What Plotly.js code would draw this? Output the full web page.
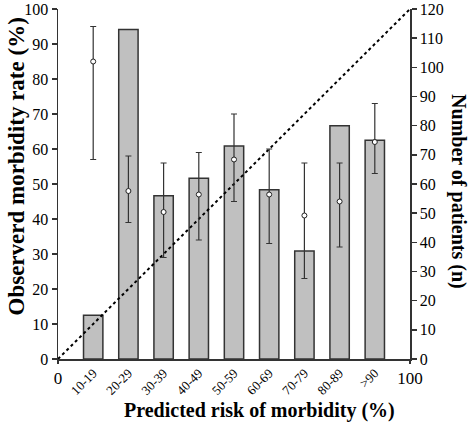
<!DOCTYPE html>
<html>
<head>
<meta charset="utf-8">
<script src="https://cdn.plot.ly/plotly-3.0.1.min.js"></script>
<style>
  html, body { margin: 0; padding: 0; background: #fff; }
  #chart { width: 470px; height: 428px; }
</style>
</head>
<body>
<div id="chart"></div>
<script>
// ---- data ----
const categories = ['10-19', '20-29', '30-39', '40-49', '50-59', '60-69', '70-79', '80-89', '>90'];
const riskClassCenter = [10, 20, 30, 40, 50, 60, 70, 80, 90];
const patients = [15, 113, 56, 62, 73, 58, 37, 80, 75];
const morbidity = [85, 48, 42, 47, 57, 47, 41, 45, 62];
const ciUpper = [95, 58, 56, 59, 70, 60, 56, 56, 73];
const ciLower = [57, 39, 29, 34, 45, 33, 23, 32, 53];
const refX = [0, 100];
const refY = [0, 100];
const edgeTicks = [0, 100];

const errPlus = morbidity.map((v, i) => ciUpper[i] - v);
const errMinus = morbidity.map((v, i) => v - ciLower[i]);

const FONT = 'Liberation Serif, Times New Roman, serif';
const AX = '#333333';

const traces = [
  {
    type: 'bar',
    x: riskClassCenter,
    y: patients,
    width: 5.5,
    xaxis: 'x',
    yaxis: 'y',
    marker: { color: '#c0c0c0', line: { color: AX, width: 1.5 } },
    hoverinfo: 'skip',
    showlegend: false
  },
  {
    // empty carrier so the 0 / 100 edge axis is drawn
    type: 'scatter',
    mode: 'markers',
    x: edgeTicks,
    y: [null, null],
    xaxis: 'x2',
    yaxis: 'y',
    hoverinfo: 'skip',
    showlegend: false
  },
  {
    type: 'scatter',
    mode: 'lines',
    x: refX,
    y: refY,
    xaxis: 'x',
    yaxis: 'y2',
    line: { color: '#000', width: 2, dash: '3px,3px' },
    hoverinfo: 'skip',
    showlegend: false
  },
  {
    type: 'scatter',
    mode: 'markers',
    x: riskClassCenter,
    y: morbidity,
    xaxis: 'x',
    yaxis: 'y2',
    marker: { symbol: 'circle', size: 5, color: '#fff', line: { color: '#222', width: 1 } },
    error_y: {
      type: 'data', symmetric: false,
      array: errPlus, arrayminus: errMinus,
      color: '#333', thickness: 1.2, width: 3
    },
    hoverinfo: 'skip',
    showlegend: false
  }
];

const layout = {
  width: 470,
  height: 428,
  margin: { l: 58, r: 60, t: 9, b: 69 },
  paper_bgcolor: '#fff',
  plot_bgcolor: '#fff',
  font: { family: FONT, color: '#000', size: 16 },
  showlegend: false,
  xaxis: {
    range: [0, 100],
    tickmode: 'array',
    tickvals: riskClassCenter,
    ticktext: categories,
    tickangle: -45,
    ticks: '',
    tickfont: { size: 13 },
    showline: true, linecolor: AX, linewidth: 1.5,
    showgrid: false, zeroline: false,
    anchor: 'y'
  },
  xaxis2: {
    overlaying: 'x',
    side: 'bottom',
    anchor: 'y',
    range: [0, 100],
    tickmode: 'array',
    tickvals: edgeTicks,
    ticks: 'outside', ticklen: 4, tickcolor: AX, tickwidth: 1.5,
    tickangle: 0,
    tickfont: { size: 17 },
    showline: false, showgrid: false, zeroline: false
  },
  yaxis: {
    side: 'right',
    range: [0, 120],
    dtick: 10,
    ticks: 'outside', ticklen: 5, tickcolor: AX, tickwidth: 1.5,
    showline: true, linecolor: AX, linewidth: 1.5,
    showgrid: false, zeroline: false,
    tickfont: { size: 16 }
  },
  yaxis2: {
    overlaying: 'y',
    side: 'left',
    range: [0, 100],
    dtick: 10,
    ticks: 'outside', ticklen: 5, tickcolor: AX, tickwidth: 1.5,
    showline: true, linecolor: AX, linewidth: 1.5,
    showgrid: false, zeroline: false,
    tickfont: { size: 16 }
  },
  annotations: [
    {
      text: '<b>Predicted risk of morbidity (%)</b>',
      xref: 'paper', yref: 'paper',
      x: 0.572, y: -0.146, xanchor: 'center', yanchor: 'middle',
      showarrow: false, font: { size: 20, family: FONT }
    },
    {
      text: '<b>Observerd morbidity rate (%)</b>',
      xref: 'paper', yref: 'paper',
      x: -0.1165, y: 0.55, xanchor: 'center', yanchor: 'middle',
      textangle: -90,
      showarrow: false, font: { size: 23, family: FONT }
    },
    {
      text: '<b>Number of patients (n)</b>',
      xref: 'paper', yref: 'paper',
      x: 1.139, y: 0.477, xanchor: 'center', yanchor: 'middle',
      textangle: 90,
      showarrow: false, font: { size: 20, family: FONT }
    }
  ]
};

Plotly.newPlot('chart', traces, layout, { staticPlot: true, displayModeBar: false });
</script>
</body>
</html>
